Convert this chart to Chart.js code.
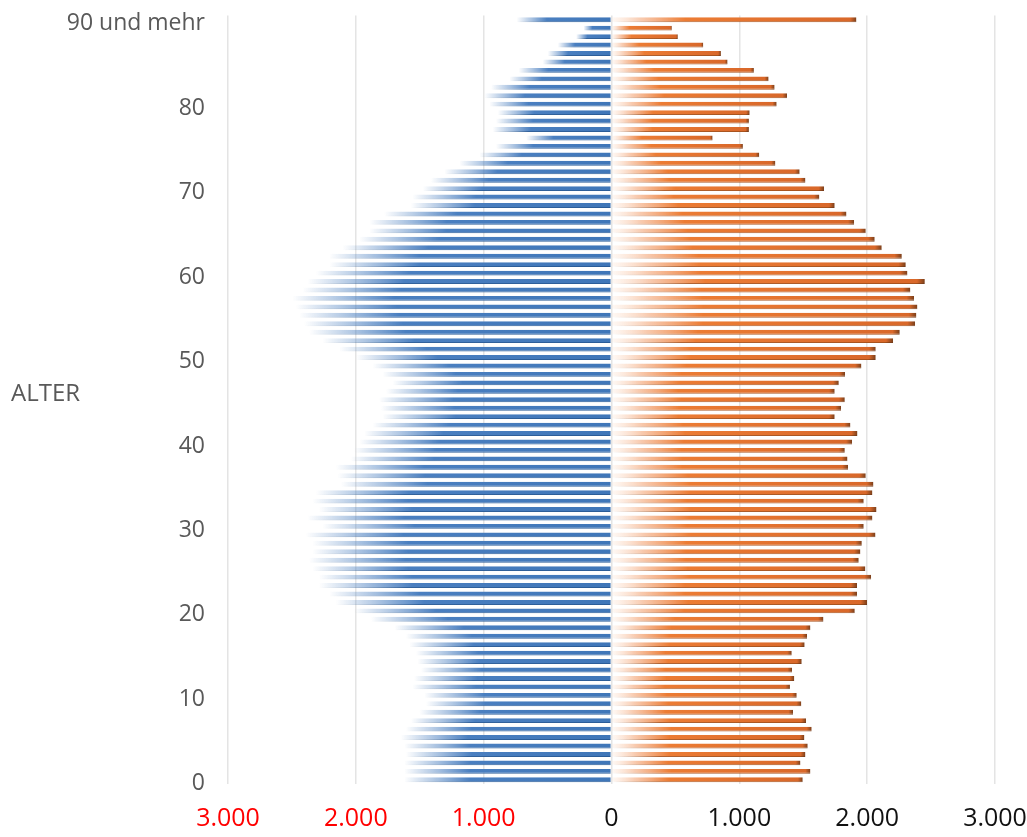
<!DOCTYPE html>
<html lang="de">
<head>
    <meta charset="UTF-8">
    <title>Alterspyramide</title>
    <script src="https://cdn.jsdelivr.net/npm/chart.js@4.4.0/dist/chart.umd.min.js"></script>
    <style>
        body {
            margin: 0;
            background: #ffffff;
        }
        .wrap {
            width: 1027px;
            height: 837px;
        }
    </style>
</head>
<body>
    <div class="wrap">
        <canvas id="pyramide"></canvas>
    </div>
    <script>
        // Alter 0 bis 89, danach "90 und mehr"
        var alter = [];
        for (var a = 0; a < 90; a++) alter.push(String(a));
        alter.push('90 und mehr');

        // blau (links), Alter 0 .. 90
        var blau = [1621, 1621, 1621, 1608, 1621, 1647, 1608, 1569, 1504, 1451,
                    1464, 1556, 1543, 1490, 1517, 1530, 1582, 1608, 1699, 1882,
                    2013, 2156, 2208, 2287, 2287, 2339, 2365, 2339, 2339, 2391,
                    2261, 2378, 2287, 2339, 2313, 2117, 2143, 2156, 2039, 2013,
                    1973, 1934, 1869, 1791, 1804, 1817, 1764, 1713, 1791, 1869,
                    1999, 2130, 2261, 2365, 2404, 2443, 2469, 2496, 2417, 2378,
                    2313, 2208, 2208, 2104, 1973, 1895, 1895, 1778, 1570, 1556,
                    1477, 1412, 1308, 1190, 1034, 903, 668, 929, 903, 890,
                    955, 995, 942, 799, 726, 538, 499, 420, 277, 219,
                    742];

        // orange (rechts), Alter 0 .. 90
        var orange = [1496, 1556, 1478, 1517, 1535, 1509, 1566, 1522, 1420, 1485,
                      1449, 1396, 1430, 1412, 1488, 1410, 1511, 1530, 1556, 1658,
                      1903, 1999, 1921, 1921, 2031, 1986, 1934, 1947, 1958, 2065,
                      1973, 2041, 2073, 1973, 2041, 2049, 1989, 1851, 1846, 1825,
                      1882, 1924, 1869, 1746, 1796, 1825, 1746, 1778, 1827, 1955,
                      2067, 2067, 2203, 2255, 2375, 2385, 2393, 2367, 2338, 2451,
                      2315, 2302, 2271, 2114, 2059, 1989, 1898, 1838, 1746, 1626,
                      1663, 1517, 1472, 1282, 1156, 1028, 791, 1075, 1075, 1081,
                      1292, 1373, 1276, 1229, 1114, 908, 856, 718, 519, 472,
                      1916];

        var xTicks = [-3000, -2000, -1000, 0, 1000, 2000, 3000];

        Chart.defaults.font.family = '"Open Sans", sans-serif';

        // Verlauf je Balken: blau blendet nach links aus, orange beginnt hell an der Null
        function verlauf(ctx, seite, dunkel) {
            var chart = ctx.chart;
            if (!chart.chartArea || ctx.raw === undefined) return 'transparent';
            var xs = chart.scales.x;
            var p0 = xs.getPixelForValue(0);
            var p1 = xs.getPixelForValue(ctx.raw);
            if (Math.abs(p1 - p0) < 1) p1 = p0 + (seite === 'links' ? -1 : 1);
            var g = chart.ctx.createLinearGradient(p1, 0, p0, 0);
            if (seite === 'links') {
                if (dunkel) {
                    g.addColorStop(0, 'rgba(40,90,150,0)');
                    g.addColorStop(0.3, 'rgba(40,90,150,0.95)');
                    g.addColorStop(1, '#2a5c98');
                } else {
                    g.addColorStop(0, 'rgba(74,127,192,0)');
                    g.addColorStop(0.15, 'rgba(74,127,192,0.45)');
                    g.addColorStop(0.32, '#4a7fc0');
                    g.addColorStop(1, '#3f76b8');
                }
            } else {
                // hier ist p1 das Balkenende rechts
                if (dunkel) {
                    g.addColorStop(0, '#6e3a1c');
                    g.addColorStop(0.03, '#a8521c');
                    g.addColorStop(0.75, 'rgba(168,82,28,0.9)');
                    g.addColorStop(1, 'rgba(168,82,28,0)');
                } else {
                    g.addColorStop(0, '#7a3f1a');
                    g.addColorStop(0.025, '#d9682a');
                    g.addColorStop(0.7, '#ec7c34');
                    g.addColorStop(0.88, 'rgba(240,140,80,0.45)');
                    g.addColorStop(1, 'rgba(250,190,150,0.1)');
                }
            }
            return g;
        }

        var alterTitel = {
            id: 'alterTitel',
            afterDraw: function (chart) {
                var c = chart.ctx;
                var mitte = (chart.chartArea.top + chart.chartArea.bottom) / 2;
                c.save();
                c.font = '24px "Open Sans", sans-serif';
                c.fillStyle = '#595959';
                c.textAlign = 'left';
                c.textBaseline = 'middle';
                c.fillText('ALTER', 11, mitte - 6);
                c.restore();
            }
        };

        new Chart(document.getElementById('pyramide'), {
            type: 'bar',
            data: {
                labels: alter,
                datasets: [
                    {
                        label: 'links',
                        data: blau.map(function (v) { return -v; }),
                        backgroundColor: function (ctx) { return verlauf(ctx, 'links', false); },
                        borderColor: function (ctx) { return verlauf(ctx, 'links', true); },
                        borderWidth: { top: 0, left: 0, right: 0, bottom: 1 },
                        borderSkipped: false,
                        barPercentage: 0.58,
                        categoryPercentage: 1
                    },
                    {
                        label: 'rechts',
                        data: orange,
                        backgroundColor: function (ctx) { return verlauf(ctx, 'rechts', false); },
                        borderColor: function (ctx) { return verlauf(ctx, 'rechts', true); },
                        borderWidth: { top: 0, left: 0, right: 0, bottom: 1 },
                        borderSkipped: false,
                        barPercentage: 0.58,
                        categoryPercentage: 1
                    }
                ]
            },
            options: {
                indexAxis: 'y',
                responsive: true,
                maintainAspectRatio: false,
                animation: false,
                layout: { padding: { top: 15.5, right: 0, bottom: 3, left: 0 } },
                plugins: {
                    legend: { display: false },
                    tooltip: { enabled: false }
                },
                scales: {
                    x: {
                        stacked: true,
                        min: xTicks[0],
                        max: xTicks[xTicks.length - 1],
                        afterBuildTicks: function (scale) {
                            scale.ticks = xTicks.map(function (v) { return { value: v }; });
                        },
                        afterFit: function (scale) {
                            scale.height = 50;
                            scale.paddingLeft = 0;
                            scale.paddingRight = 32;
                        },
                        grid: { color: '#e4e4e4', lineWidth: 1.5, drawTicks: false },
                        border: { display: false },
                        ticks: {
                            padding: 20,
                            font: { size: 25 },
                            color: function (ctx) { return ctx.tick.value < 0 ? '#ff0000' : '#111111'; },
                            callback: function (v) { return Math.abs(v).toLocaleString('de-DE'); }
                        }
                    },
                    y: {
                        stacked: true,
                        reverse: true,
                        grid: { display: false, drawTicks: false },
                        border: { display: false },
                        afterFit: function (scale) {
                            scale.width = 228;
                            scale.paddingTop = 0;
                            scale.paddingBottom = 0;
                        },
                        ticks: {
                            autoSkip: false,
                            padding: 23,
                            labelOffset: 4,
                            color: '#595959',
                            font: { size: 23 },
                            callback: function (v, i) { return i % 10 === 0 ? alter[i] : ''; }
                        }
                    }
                }
            },
            plugins: [alterTitel]
        });
    </script>
</body>
</html>
